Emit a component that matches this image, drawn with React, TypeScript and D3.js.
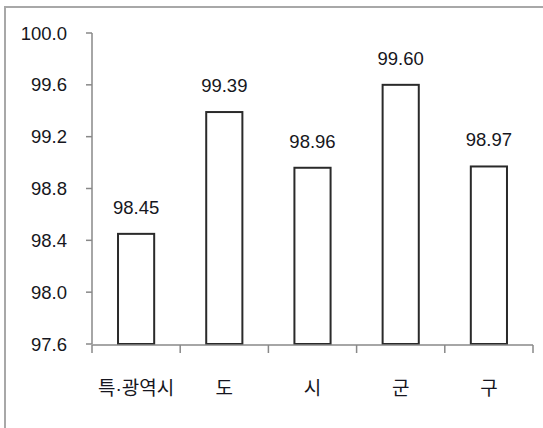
import React from "react";
import * as d3 from "d3";

const categories = ["특·광역시", "도", "시", "군", "구"];
const values = [98.45, 99.39, 98.96, 99.6, 98.97];
const yTicks = [97.6, 98.0, 98.4, 98.8, 99.2, 99.6, 100.0];

const W = 543;
const H = 428;
const left = 92;
const right = 533;
const top = 33;
const bottom = 344;
const FONT = "'Liberation Sans', Arial, 'Noto Sans CJK KR', sans-serif";

export default function App() {
  const x = d3.scaleBand<string>().domain(categories).range([left, right]).paddingInner(0).paddingOuter(0);
  const y = d3.scaleLinear().domain([97.6, 100.0]).range([bottom, top]);
  const bw = x.bandwidth() * 0.41;
  const edges = d3.range(categories.length + 1).map((i) => left + i * x.step());

  return (
    <svg
      width={W}
      height={H}
      style={{ position: "absolute", left: 0, top: 0, background: "#fff" }}
      fontFamily={FONT}
    >
      <rect x={0} y={0} width={W} height={H} fill="#fff" />
      <path d={`M5,${H + 5} L5,7 L${W + 5},7`} fill="none" stroke="#a8a8a8" strokeWidth={2} />
      {/* y axis */}
      <line x1={left} x2={left} y1={top} y2={bottom} stroke="#888" strokeWidth={1.5} />
      {yTicks.map((t) => (
        <g key={t}>
          <line x1={left - 6} x2={left} y1={y(t)} y2={y(t)} stroke="#888" strokeWidth={1.5} />
          <text
            x={67}
            y={y(t)}
            dy="0.36em"
            textAnchor="end"
            fontSize={18.5}
            fill="#161620"
          >
            {t.toFixed(1)}
          </text>
        </g>
      ))}
      {/* bars */}
      {categories.map((c, i) => {
        const cx = (x(c) as number) + x.bandwidth() / 2;
        return (
          <g key={c}>
            <rect
              x={cx - bw / 2}
              y={y(values[i])}
              width={bw}
              height={bottom - y(values[i])}
              fill="#fff"
              stroke="#2a2a2a"
              strokeWidth={2}
            />
            <text
              x={cx}
              y={y(values[i]) - 20}
              textAnchor="middle"
              fontSize={18.5}
              fill="#161620"
            >
              {values[i].toFixed(2)}
            </text>
            <text
              x={cx}
              y={395}
              textAnchor="middle"
              fontSize={19}
              fill="#161620"
            >
              {c}
            </text>
          </g>
        );
      })}
      {/* x axis */}
      <line x1={left} x2={right} y1={bottom + 1} y2={bottom + 1} stroke="#888" strokeWidth={1.5} />
      {edges.map((e, i) => (
        <line key={i} x1={e} x2={e} y1={bottom + 1} y2={bottom + 9} stroke="#888" strokeWidth={1.5} />
      ))}
    </svg>
  );
}
